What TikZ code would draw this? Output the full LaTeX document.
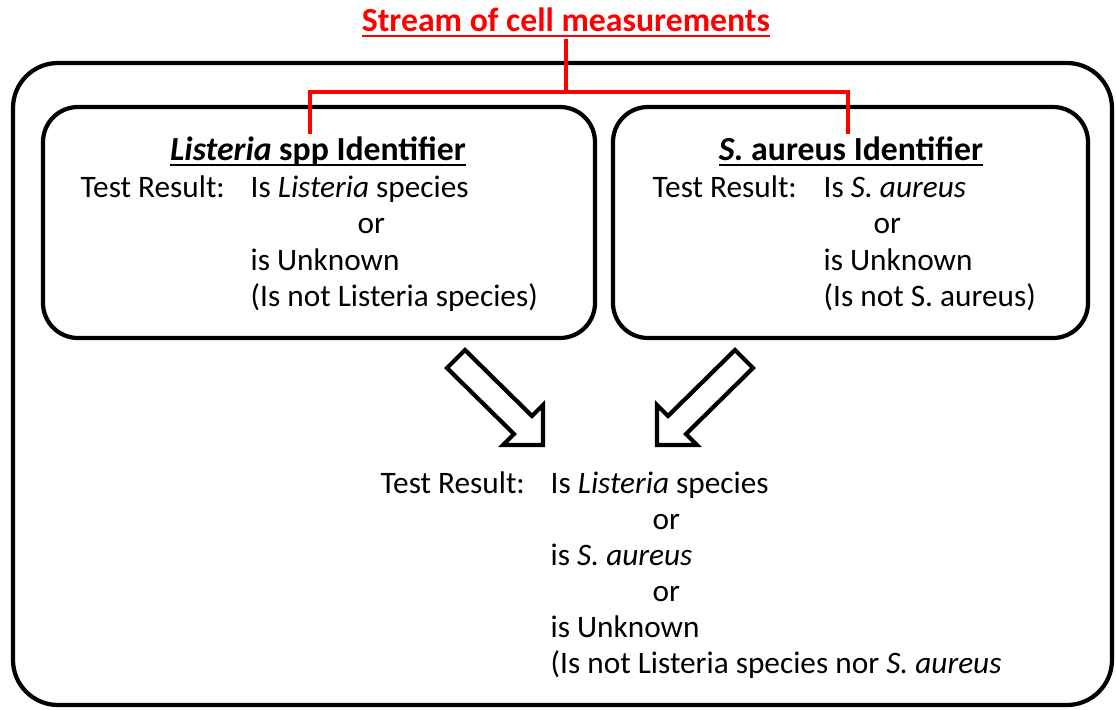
\documentclass[tikz,border=0pt]{standalone}
\usepackage{fontspec}
\setmainfont{Carlito}
\usepackage{tikz}
\usetikzlibrary{calc}
\usepackage{tkz-euclide}

\begin{document}
\begin{tikzpicture}[
    box/.style={draw, line width=1.2pt, rounded corners=0.35cm, inner sep=0pt},
    txt/.style={anchor=base west, inner sep=0pt, font=\fontsize{8.9}{10.7}\selectfont},
    head/.style={anchor=base, inner sep=0pt, font=\fontsize{9.6}{11.5}\selectfont\bfseries},
    redline/.style={red, line width=1.4pt},
    blockarrow/.style={black, line width=1.2pt, fill=white, line join=miter}]
                \useasboundingbox (0,0) rectangle (11.16,7.09);
                % frames
                \node[box, rounded corners=0.45cm, minimum width=10.99cm, minimum height=6.42cm] (outer) at (5.625,3.25) {};
                \node[box, minimum width=5.52cm, minimum height=2.31cm] (lbox) at (3.19,4.865) {};
                \node[box, minimum width=4.75cm, minimum height=2.31cm] (rbox) at (8.505,4.865) {};
                % left identifier
                \node[head] (ltitle) at (3.18,5.49) {\underline{\textit{Listeria} s\smash{pp} Identifier}};
                \node[txt] (lres) at (0.80,5.12) {Test Result:};
                \node[txt] (lis) at (2.50,5.12) {Is \textit{Listeria} species};
                \node[txt] (lor) at (3.57,4.755) {or};
                \node[txt] (lunk) at (2.50,4.39) {is Unknown};
                \node[txt] (lnot) at (2.50,4.025) {(Is not Listeria species)};
                % right identifier
                \node[head] (rtitle) at (8.51,5.49) {\underline{\textit{S.} aureus Identifier}};
                \node[txt] (rres) at (6.52,5.12) {Test Result:};
                \node[txt] (ris) at (8.23,5.12) {Is \textit{S. aureus}};
                \node[txt] (ror) at (8.73,4.755) {or};
                \node[txt] (runk) at (8.23,4.39) {is Unknown};
                \node[txt] (rnot) at (8.23,4.025) {(Is not S. aureus)};
                % combined result
                \node[txt] (bres) at (3.80,2.16) {Test Result:};
                \node[txt] (bis) at (5.50,2.16) {Is \textit{Listeria} species};
                \node[txt] (bor1) at (6.52,1.80) {or};
                \node[txt] (bsa) at (5.50,1.44) {is \textit{S. aureus}};
                \node[txt] (bor2) at (6.52,1.08) {or};
                \node[txt] (bunk) at (5.50,0.72) {is Unknown};
                \node[txt] (bnot) at (5.50,0.36) {(Is not Listeria species nor \textit{S. aureus}};
                % block arrows
                \tkzDefPoints{4.65/3.59/A_1, 5.32/2.93/A_2, 5.43/3.04/A_3, 5.43/2.64/A_4,
                              5.03/2.64/A_5, 5.14/2.75/A_6, 4.47/3.41/A_7}
                \tkzDefPoints{7.35/3.59/B_1, 6.68/2.93/B_2, 6.57/3.04/B_3, 6.57/2.64/B_4,
                              6.97/2.64/B_5, 6.86/2.75/B_6, 7.53/3.41/B_7}
                \tkzDrawPolygon[blockarrow](A_1,A_2,A_3,A_4,A_5,A_6,A_7)
                \tkzDrawPolygon[blockarrow](B_1,B_2,B_3,B_4,B_5,B_6,B_7)
                % stream
                \node[head, red] (stream) at (5.66,6.78) {\underline{Stream of cell measurements}};
                \coordinate (ljoin) at (3.10,6.17);
                \coordinate (lend) at (3.10,5.75);
                \coordinate (rjoin) at (8.48,6.17);
                \coordinate (rend) at (8.48,5.75);
                \draw[redline] (stream.south) |- (ljoin) -- (lend);
                \draw[redline] (stream.south) |- (rjoin) -- (rend);
            \end{tikzpicture}
\end{document}
